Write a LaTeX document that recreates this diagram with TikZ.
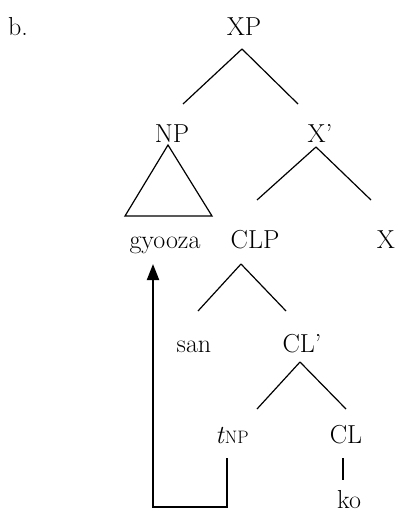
\documentclass[tikz,border=0pt]{standalone}
\usepackage{tikz}
\usetikzlibrary{arrows.meta}
\tikzstyle{Cat}=[inner sep=0pt,anchor=base,font=\fontsize{26}{30}\selectfont]
\tikzstyle{Edge}=[draw=black,line width=1.2pt]
\tikzstyle{Move}=[draw=black,line width=2pt,
-{Triangle[width=12pt,length=16pt]}]
\begin{document}
\begin{tikzpicture}[x=1pt,y=-1pt]
        \useasboundingbox(0,0)rectangle(398,514);
        \node[Cat,anchor=base west](lab)at(8,35){b.};
        \node[Cat](XP)at(244,35){XP};
        \node[Cat](NP)at(172,142){NP};
        \node[Cat](Xb)at(320,142){X’};
        \node[Cat](gyooza)at(165,248){gyooza};
        \node[Cat](CLP)at(255,248){CLP};
        \node[Cat](X)at(386,248){X};
        \node[Cat](san)at(194,352){san};
        \node[Cat](CLb)at(302,352){CL’};
        \node[Cat](t)at(232,443)
            {\textit{t}{\fontsize{18}{20}\selectfont NP}};
        \node[Cat](CL)at(346,443){CL};
        \node[Cat](ko)at(349,508){ko};
        \draw[Edge]([shift={(-2,14)}]XP.base)--([shift={(11,-38)}]NP.base);
        \draw[Edge]([shift={(-2,14)}]XP.base)--([shift={(-22,-38)}]Xb.base);
        \draw[Edge]([shift={(-4,3)}]NP.base)--([shift={(-40,-32)}]gyooza.base)
            --([shift={(47,-32)}]gyooza.base)--cycle;
        \draw[Edge]([shift={(-4,5)}]Xb.base)--([shift={(2,-48)}]CLP.base);
        \draw[Edge]([shift={(-4,5)}]Xb.base)--([shift={(-15,-48)}]X.base);
        \draw[Edge]([shift={(-14,16)}]CLP.base)--([shift={(4,-41)}]san.base);
        \draw[Edge]([shift={(-14,16)}]CLP.base)--([shift={(-16,-41)}]CLb.base);
        \draw[Edge]([shift={(-2,10)}]CLb.base)--([shift={(25,-34)}]t.base);
        \draw[Edge]([shift={(-2,10)}]CLb.base)--([shift={(0,-34)}]CL.base);
        \draw[Edge]([shift={(-3,15)}]CL.base)--([shift={(-6,-28)}]ko.base);
        \draw[Move]([shift={(-5,15)}]t.base)--++(0,49)
            -|([shift={(-12,16)}]gyooza.base);
    \end{tikzpicture}
\end{document}
